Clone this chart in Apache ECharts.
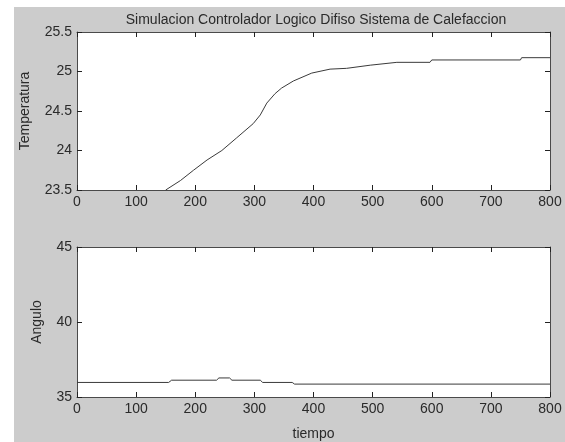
<!DOCTYPE html>
<html>
<head>
<meta charset="utf-8">
<script src="https://cdn.jsdelivr.net/npm/echarts@6/dist/echarts.min.js"></script>
<style>
  html, body { margin: 0; padding: 0; background: #ffffff; }
  #wrap { position: relative; width: 565px; height: 442px; }
  #panel { position: absolute; left: 14px; top: 7px; width: 551px; height: 435px; background: #cccccc; }
  #chart { position: absolute; left: 0; top: 0; width: 565px; height: 442px; }
</style>
</head>
<body>
<div id="wrap">
  <div id="panel"></div>
  <div id="chart"></div>
</div>
<script>
// Temperature response of the fuzzy heating controller
const tiempoTemp = [150, 175, 197, 220, 245, 270, 298, 310, 321, 335, 346, 366, 397, 428, 456, 496, 541, 597, 600, 750, 752, 800];
const temperatura = [23.5, 23.62, 23.75, 23.88, 24.0, 24.16, 24.34, 24.45, 24.6, 24.72, 24.79, 24.88, 24.98, 25.03, 25.04, 25.08, 25.116, 25.116, 25.146, 25.146, 25.175, 25.175];

// Valve angle over time
const tiempoAng = [0, 155, 160, 236, 240, 258, 262, 310, 314, 364, 368, 800];
const angulo = [35.97, 35.97, 36.12, 36.12, 36.27, 36.27, 36.12, 36.12, 35.97, 35.97, 35.86, 35.86];

const xTicks = [0, 100, 200, 300, 400, 500, 600, 700, 800];
const tempTicks = [23.5, 24, 24.5, 25, 25.5];
const angTicks = [35, 40, 45];

const titulo = 'Simulacion Controlador Logico Difiso Sistema de Calefaccion';

const FONT = "'Liberation Sans', Arial, sans-serif";
const TXT = '#2a2a2a';
const LINE = '#4a4a4a';
const FS = 14;

function pairs(xs, ys) { return xs.map((x, i) => [x, ys[i]]); }

function xAx(grid, pos, labels, extra) {
  return Object.assign({
    type: 'value', gridIndex: grid, position: pos,
    min: xTicks[0], max: xTicks[xTicks.length - 1], interval: xTicks[1] - xTicks[0],
    axisLine: { show: true, onZero: false, lineStyle: { color: LINE, width: 1 } },
    axisTick: { show: true, inside: true, length: 5, lineStyle: { color: '#222' } },
    axisLabel: { show: labels, color: TXT, fontSize: FS, fontFamily: FONT, margin: 5 },
    splitLine: { show: false }
  }, extra || {});
}

function yAx(grid, pos, labels, ticks, extra) {
  return Object.assign({
    type: 'value', gridIndex: grid, position: pos,
    min: ticks[0], max: ticks[ticks.length - 1], interval: ticks[1] - ticks[0],
    axisLine: { show: true, onZero: false, lineStyle: { color: LINE, width: 1 } },
    axisTick: { show: true, inside: true, length: 5, lineStyle: { color: '#222' } },
    axisLabel: { show: labels, color: TXT, fontSize: FS, fontFamily: FONT, margin: 5 },
    splitLine: { show: false }
  }, extra || {});
}

const chart = echarts.init(document.getElementById('chart'), null, { renderer: 'canvas' });
chart.setOption({
  animation: false,
  backgroundColor: 'transparent',
  textStyle: { fontFamily: FONT },
  title: {
    text: titulo, left: 311, top: 8, textAlign: 'center',
    textStyle: { fontSize: FS, fontWeight: 'normal', color: TXT, fontFamily: FONT }
  },
  grid: [
    { left: 77, top: 32, width: 473, height: 158, show: true, backgroundColor: '#ffffff', borderWidth: 0 },
    { left: 77, top: 247, width: 473, height: 160, show: true, backgroundColor: '#ffffff', borderWidth: 0 }
  ],
  xAxis: [
    xAx(0, 'bottom', true),
    xAx(0, 'top', false),
    xAx(1, 'bottom', true, {
      name: 'tiempo', nameLocation: 'middle', nameGap: 30,
      nameTextStyle: { color: TXT, fontSize: FS, fontFamily: FONT }
    }),
    xAx(1, 'top', false)
  ],
  yAxis: [
    yAx(0, 'left', true, tempTicks, {
      name: 'Temperatura', nameLocation: 'middle', nameGap: 45,
      nameTextStyle: { color: TXT, fontSize: FS, fontFamily: FONT }
    }),
    yAx(0, 'right', false, tempTicks),
    yAx(1, 'left', true, angTicks, {
      name: 'Angulo', nameLocation: 'middle', nameGap: 33,
      nameTextStyle: { color: TXT, fontSize: FS, fontFamily: FONT }
    }),
    yAx(1, 'right', false, angTicks)
  ],
  series: [
    {
      type: 'line', xAxisIndex: 0, yAxisIndex: 0, showSymbol: false, clip: true,
      lineStyle: { color: '#3a3a3a', width: 1 },
      data: pairs(tiempoTemp, temperatura)
    },
    {
      type: 'line', xAxisIndex: 2, yAxisIndex: 2, showSymbol: false, clip: true,
      lineStyle: { color: '#3a3a3a', width: 1 },
      data: pairs(tiempoAng, angulo)
    }
  ]
});
</script>
</body>
</html>
